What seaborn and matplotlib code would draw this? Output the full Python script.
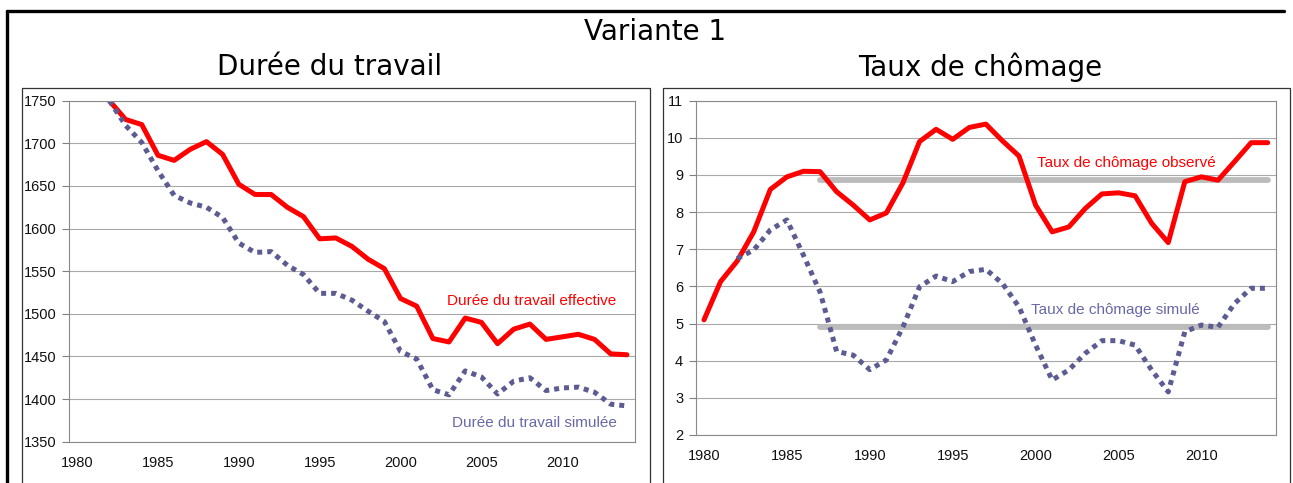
import numpy as np
import pandas as pd
import matplotlib
matplotlib.use('Agg')
import matplotlib.pyplot as plt
import seaborn as sns
from matplotlib.lines import Line2D

# Durée du travail (heures annuelles)
years_duree = list(range(1982, 2015))
duree_effective = [1750, 1728, 1722, 1686, 1680, 1693, 1702, 1687, 1652, 1640,
                   1640, 1625, 1614, 1588, 1589, 1579, 1564, 1553, 1518, 1509,
                   1471, 1467, 1495, 1490, 1465, 1482, 1488, 1470, 1473, 1476,
                   1470, 1453, 1452]
duree_simulee = [1750, 1721, 1701, 1668, 1639, 1630, 1625, 1613, 1583, 1572,
                 1573, 1557, 1546, 1524, 1524, 1516, 1503, 1491, 1456, 1447,
                 1411, 1405, 1433, 1426, 1406, 1421, 1425, 1410, 1413, 1414,
                 1408, 1394, 1392]

# Taux de chômage (%)
years_obs = list(range(1980, 2015))
chomage_observe = [5.1, 6.13, 6.68, 7.47, 8.61, 8.95, 9.1, 9.09, 8.55, 8.19,
                   7.79, 7.98, 8.79, 9.9, 10.23, 9.96, 10.28, 10.37, 9.92, 9.51,
                   8.19, 7.47, 7.6, 8.1, 8.49, 8.52, 8.44, 7.7, 7.18, 8.82,
                   8.95, 8.86, 9.36, 9.87, 9.87]
years_sim = list(range(1982, 2015))
chomage_simule = [6.75, 6.98, 7.52, 7.79, 6.84, 5.85, 4.25, 4.15, 3.76, 4.02,
                  4.91, 5.99, 6.28, 6.13, 6.4, 6.46, 6.08, 5.45, 4.42, 3.48,
                  3.75, 4.2, 4.54, 4.54, 4.42, 3.75, 3.16, 4.78, 4.96, 4.9,
                  5.54, 5.95, 5.95]
mean_years = [1987, 2014]
mean_observe = [8.86, 8.86]
mean_simule = [4.91, 4.91]

RED = '#ff0000'
BLUE = '#5c5c92'
BLUE_TXT = '#6868a8'
GREY = '#bcbcbc'

sns.set_style('white')
plt.rcParams['font.family'] = ['Liberation Sans', 'DejaVu Sans']

W, H = 1293, 483
fig = plt.figure(figsize=(W / 100, H / 100), dpi=100)
fig.patch.set_facecolor('white')


def fx(px):
    return px / W


def fy(py):
    return 1 - py / H


ax1 = fig.add_axes([fx(69), fy(441.7), fx(635) - fx(69), fy(100.7) - fy(441.7)])
ax2 = fig.add_axes([fx(695.7), fy(435), fx(1276) - fx(695.7), fy(100.7) - fy(435)])

dotted = (0, (1, 1))

sns.lineplot(x=years_duree, y=duree_effective, ax=ax1, color=RED, lw=3.6,
             solid_joinstyle='round')
sns.lineplot(x=years_duree, y=duree_simulee, ax=ax1, color=BLUE, lw=3.6,
             linestyle=dotted, dash_capstyle='butt')

sns.lineplot(x=mean_years, y=mean_observe, ax=ax2, color=GREY, lw=4.2)
sns.lineplot(x=mean_years, y=mean_simule, ax=ax2, color=GREY, lw=4.2)
sns.lineplot(x=years_obs, y=chomage_observe, ax=ax2, color=RED, lw=3.6,
             solid_joinstyle='round')
sns.lineplot(x=years_sim, y=chomage_simule, ax=ax2, color=BLUE, lw=3.6,
             linestyle=dotted, dash_capstyle='butt')

ax1.set_ylim(1350, 1750)
ax1.set_yticks(range(1350, 1751, 50))
ax2.set_ylim(2, 11)
ax2.set_yticks(range(2, 12))

for ax in (ax1, ax2):
    ax.set_xlim(1979.5, 2014.5)
    ax.set_xticks(range(1980, 2015, 5))
    ax.set_xticks(np.arange(1979.5, 2015, 1), minor=True)
    ax.tick_params(axis='x', which='major', length=0, pad=10, labelsize=10.5,
                   colors='#111111')
    ax.tick_params(axis='x', which='minor', length=4, width=0.8,
                   color='#808080', direction='out')
    ax.tick_params(axis='y', length=5, width=0.8, color='#808080', pad=4,
                   labelsize=10.5, labelcolor='#111111', left=True)
    ax.yaxis.grid(True, color='#a8a8a8', lw=0.8)
    ax.set_axisbelow(True)
    for s in ax.spines.values():
        s.set_color('#8a8a8a')
        s.set_linewidth(0.8)
    ax.set_xlabel('')
    ax.set_ylabel('')
    if ax.get_legend():
        ax.get_legend().remove()

ax1.text(2008.1, 1515, 'Durée du travail effective', color=RED, fontsize=11,
         ha='center', va='center')
ax1.text(2008.3, 1372, 'Durée du travail simulée', color=BLUE_TXT, fontsize=11,
         ha='center', va='center')
ax2.text(2005.5, 9.32, 'Taux de chômage observé', color=RED, fontsize=11,
         ha='center', va='center')
ax2.text(2004.8, 5.36, 'Taux de chômage simulé', color=BLUE_TXT, fontsize=11,
         ha='center', va='center')

# titles
for px, py, label in [(655, 32, 'Variante 1'), (330, 67, 'Durée du travail'),
                      (980, 67, 'Taux de chômage')]:
    fig.text(fx(px), fy(py), label, fontsize=20, family='DejaVu Sans',
             color='black', ha='center', va='center')

# frames
fig.add_artist(Line2D([fx(7), fx(7)], [fy(11), fy(490)], color='black', lw=2.4))
fig.add_artist(Line2D([fx(7), fx(1284)], [fy(11), fy(11)], color='black', lw=2.4))
for x0, x1 in [(22, 650), (663, 1290)]:
    fig.add_artist(Line2D([fx(x0), fx(x0), fx(x1), fx(x1)],
                          [fy(490), fy(88), fy(88), fy(490)],
                          color='#333333', lw=0.9))

fig.savefig('out.png', dpi=100)
